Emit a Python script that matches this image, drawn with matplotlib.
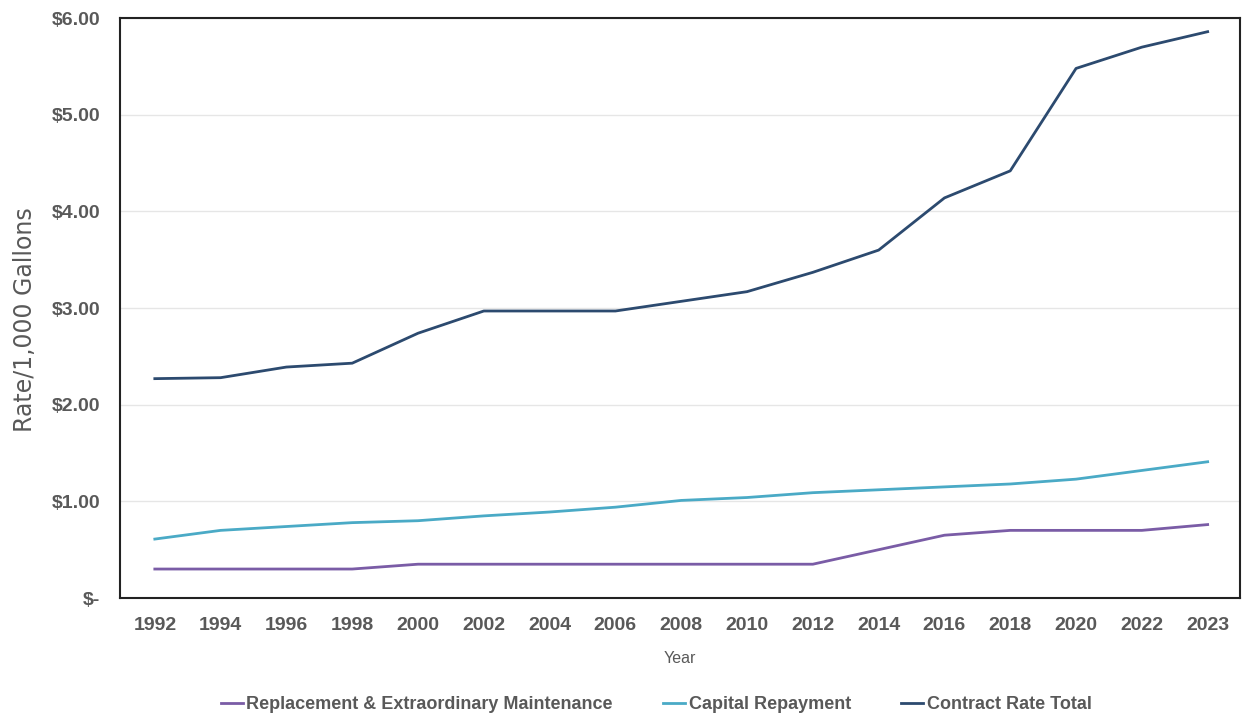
import matplotlib.pyplot as plt
import numpy as np

years = ['1992', '1994', '1996', '1998', '2000', '2002', '2004', '2006', '2008',
         '2010', '2012', '2014', '2016', '2018', '2020', '2022', '2023']
replacement = [0.30, 0.30, 0.30, 0.30, 0.35, 0.35, 0.35, 0.35, 0.35,
               0.35, 0.35, 0.50, 0.65, 0.70, 0.70, 0.70, 0.76]
capital = [0.61, 0.70, 0.74, 0.78, 0.80, 0.85, 0.89, 0.94, 1.01,
           1.04, 1.09, 1.12, 1.15, 1.18, 1.23, 1.32, 1.41]
total = [2.27, 2.28, 2.39, 2.43, 2.74, 2.97, 2.97, 2.97, 3.07,
         3.17, 3.37, 3.60, 4.14, 4.42, 5.48, 5.70, 5.86]
yticks = [0, 1, 2, 3, 4, 5, 6]
ytick_labels = ['$-', '$1.00', '$2.00', '$3.00', '$4.00', '$5.00', '$6.00']

plt.rcParams['font.family'] = ['Liberation Sans', 'DejaVu Sans']
gray = '#595959'

fig = plt.figure(figsize=(12.43, 7.15), dpi=100)
ax = fig.add_axes([0.0965, 0.1636, 0.901, 0.811])

x = np.arange(len(years))
ax.plot(x, replacement, color='#7a5ca6', lw=2, label='Replacement & Extraordinary Maintenance')
ax.plot(x, capital, color='#4aaac6', lw=2, label='Capital Repayment')
ax.plot(x, total, color='#2c4a6f', lw=2, label='Contract Rate Total')

ax.set_xlim(-0.53, len(years) - 0.51)
ax.set_ylim(0, 6)
ax.set_xticks(x)
ax.set_xticklabels(years)
ax.set_yticks(yticks)
ax.set_yticklabels(ytick_labels)
ax.tick_params(axis='both', length=0, labelsize=14, colors=gray, pad=14)
for lab in ax.get_xticklabels() + ax.get_yticklabels():
    lab.set_fontweight('bold')
ax.grid(axis='y', color='#e6e6e6', lw=1)
ax.set_axisbelow(True)
for s in ax.spines.values():
    s.set_color('#222222')
    s.set_linewidth(1.5)

ax.set_xlabel('Year', fontsize=11.5, color=gray, labelpad=12)
ax.set_ylabel('Rate/1,000 Gallons', fontsize=17, color=gray, family=['DejaVu Sans'])
ax.yaxis.set_label_coords(-0.074, 0.48)

leg = fig.legend(loc='lower center', bbox_to_anchor=(0.528, -0.02), ncol=3, frameon=False,
                 fontsize=13, handlelength=1.2, handletextpad=0.2, columnspacing=2.8)
for t in leg.get_texts():
    t.set_color(gray)
    t.set_fontweight('bold')

fig.savefig('out.png', dpi=100, facecolor='white')
